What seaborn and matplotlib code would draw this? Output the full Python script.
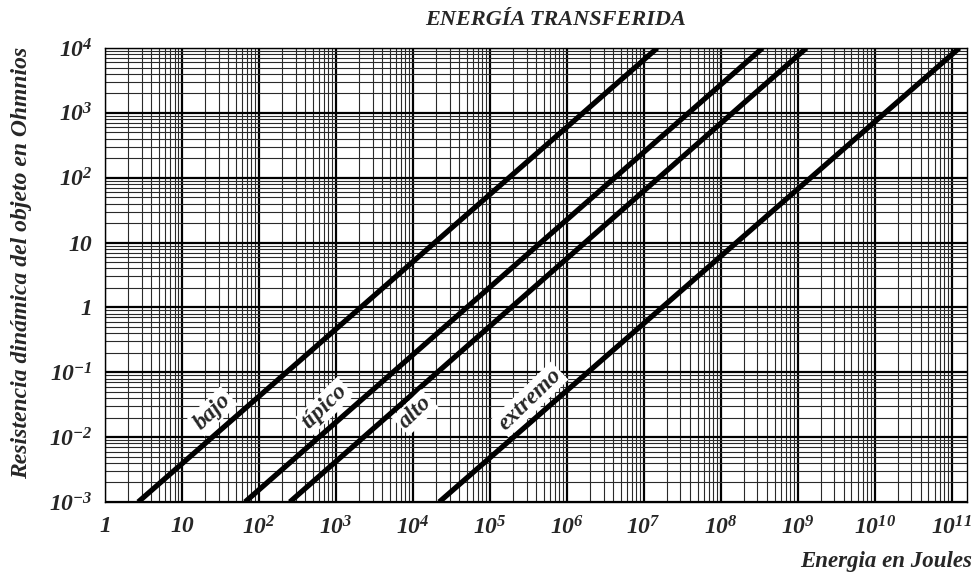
import numpy as np
import pandas as pd
import seaborn as sns
import matplotlib
matplotlib.use("Agg")
import matplotlib.pyplot as plt
from matplotlib.ticker import LogLocator, NullFormatter

# Energy levels and the energy (J) each line reaches at the bottom (1e-3 ohm)
# and at the top (1e4 ohm) of the chart
niveles = ["bajo", "típico", "alto", "extremo"]
energia_r_min = [2.7, 66.0, 252.0, 2.2e4]
energia_r_max = [1.5e7, 3.5e8, 1.3e9, 1.26e11]
resistencia_rango = [1e-3, 1e4]

# Label anchor points (energy, resistance) for each line
etiqueta_x = [25.0, 720.0, 1.07e4, 3.3e5]
etiqueta_y = [0.025, 0.030, 0.024, 0.038]

x_exponentes = list(range(0, 12))
y_exponentes = list(range(-3, 5))

def etiqueta_pot(k):
    if k == 0:
        return "1"
    if k == 1:
        return "10"
    return r"$10^{%d}$" % k

filas = []
for n, e0, e1 in zip(niveles, energia_r_min, energia_r_max):
    filas.append({"nivel": n, "energia": e0, "resistencia": resistencia_rango[0]})
    filas.append({"nivel": n, "energia": e1, "resistencia": resistencia_rango[1]})
df = pd.DataFrame(filas)

sns.set_style("white")
plt.rcParams["font.family"] = ["Liberation Serif", "DejaVu Serif"]
plt.rcParams["mathtext.default"] = "regular"

fig = plt.figure(figsize=(9.75, 5.76), dpi=100)
ax = fig.add_axes([105 / 975, 1 - 502 / 576, (967 - 105) / 975, (502 - 48) / 576])
ax.set_xscale("log")
ax.set_yscale("log")
ax.set_xlim(1, 10 ** 11.2)
ax.set_ylim(1e-3, 1e4)

ax.xaxis.set_minor_locator(LogLocator(base=10, subs=np.arange(2, 10), numticks=40))
ax.yaxis.set_minor_locator(LogLocator(base=10, subs=np.arange(2, 10), numticks=40))
ax.xaxis.set_minor_formatter(NullFormatter())
ax.yaxis.set_minor_formatter(NullFormatter())
ax.grid(which="major", color="black", lw=1.6)
ax.grid(which="minor", color="#2a2a2a", lw=0.8)
ax.set_axisbelow(True)

sns.lineplot(data=df, x="energia", y="resistencia", hue="nivel",
             palette=["black"] * len(niveles), lw=3.8, legend=False,
             ax=ax, solid_capstyle="butt")

fuente = dict(family=["Liberation Serif", "DejaVu Serif"], weight="bold", style="italic")

ax.set_xticks([10.0 ** k for k in x_exponentes])
ax.set_xticklabels([etiqueta_pot(k) for k in x_exponentes], fontsize=17, **fuente)
ax.set_yticks([10.0 ** k for k in y_exponentes])
ax.set_yticklabels([etiqueta_pot(k) for k in y_exponentes], fontsize=17, **fuente)
ax.tick_params(which="both", length=0)
ax.tick_params(axis="x", pad=10)
ax.tick_params(axis="y", pad=9)
ax.set_xlabel("")
ax.set_ylabel("")

for s in ax.spines.values():
    s.set_color("black")
    s.set_linewidth(1.0)

for n, lx, ly in zip(niveles, etiqueta_x, etiqueta_y):
    ax.text(lx, ly, n, rotation=44, ha="center", va="center", fontsize=17,
            bbox=dict(facecolor="white", edgecolor="none", pad=1.5),
            zorder=5, **fuente)

fig.text(556 / 975, 1 - 20 / 576, "ENERGÍA TRANSFERIDA", ha="center", va="center",
         fontsize=16, **fuente)
fig.text(972 / 975, 1 - 562 / 576, "Energia en Joules", ha="right", va="center",
         fontsize=16.5, **fuente)
fig.text(22 / 975, 1 - 263 / 576, "Resistencia dinámica del objeto en Ohmnios",
         rotation=90, ha="center", va="center", fontsize=17, **fuente)

fig.savefig("out.png", dpi=100, facecolor="white")
